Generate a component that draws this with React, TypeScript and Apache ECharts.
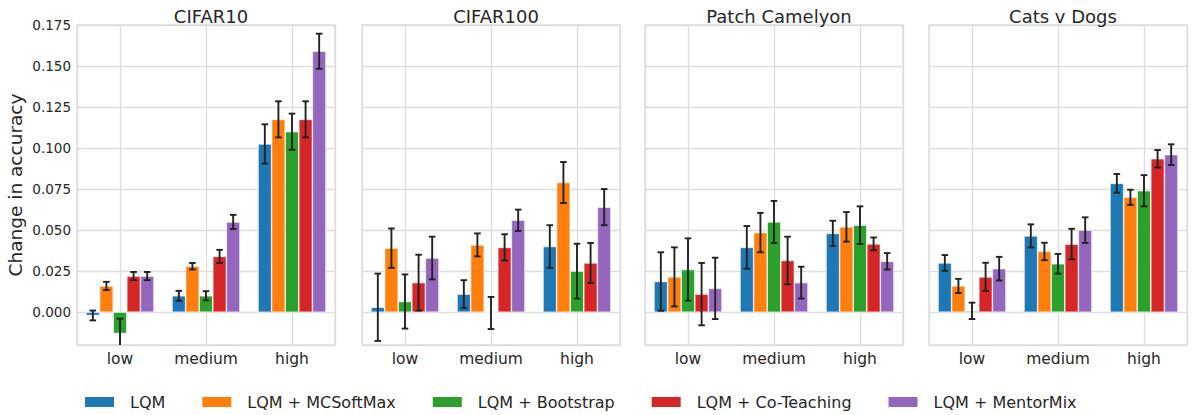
import React, { useEffect, useRef } from "react";
import * as echarts from "echarts";

const datasets = ["CIFAR10", "CIFAR100", "Patch Camelyon", "Cats v Dogs"];
const noiseLevels = ["low", "medium", "high"];
const methods = ["LQM", "LQM + MCSoftMax", "LQM + Bootstrap", "LQM + Co-Teaching", "LQM + MentorMix"];
const colors = ["#1f77b4", "#ff7f0e", "#2ca02c", "#d62728", "#9467bd"];
const yTicks = [0, 0.025, 0.05, 0.075, 0.1, 0.125, 0.15, 0.175];

// rows = methods, columns = noise levels
const cifar10Mean = [
  [-0.002, 0.010, 0.1025],
  [0.016, 0.028, 0.1175],
  [-0.013, 0.010, 0.110],
  [0.022, 0.034, 0.1175],
  [0.022, 0.055, 0.159],
];
const cifar10Err = [
  [0.003, 0.003, 0.012],
  [0.0025, 0.002, 0.011],
  [0.009, 0.0028, 0.011],
  [0.0025, 0.004, 0.011],
  [0.0025, 0.0043, 0.0107],
];
const cifar100Mean = [
  [0.003, 0.011, 0.040],
  [0.039, 0.041, 0.079],
  [0.0065, -0.0005, 0.025],
  [0.018, 0.0395, 0.030],
  [0.033, 0.056, 0.064],
];
const cifar100Err = [
  [0.0205, 0.0085, 0.013],
  [0.012, 0.007, 0.0125],
  [0.0165, 0.0098, 0.0167],
  [0.017, 0.008, 0.0122],
  [0.013, 0.0065, 0.011],
];
const camelyonMean = [
  [0.0187, 0.0395, 0.048],
  [0.0215, 0.0485, 0.052],
  [0.026, 0.055, 0.053],
  [0.011, 0.0315, 0.0416],
  [0.0145, 0.018, 0.031],
];
const camelyonErr = [
  [0.0178, 0.013, 0.0077],
  [0.018, 0.012, 0.009],
  [0.019, 0.0128, 0.0115],
  [0.019, 0.0145, 0.0039],
  [0.0187, 0.0097, 0.005],
];
const catsDogsMean = [
  [0.030, 0.0465, 0.0785],
  [0.016, 0.037, 0.070],
  [0.0008, 0.0295, 0.074],
  [0.0215, 0.0415, 0.0935],
  [0.0265, 0.050, 0.096],
];
const catsDogsErr = [
  [0.0048, 0.007, 0.0057],
  [0.0043, 0.0053, 0.0046],
  [0.005, 0.006, 0.0095],
  [0.0086, 0.0093, 0.0053],
  [0.0072, 0.0078, 0.0063],
];

const means = [cifar10Mean, cifar100Mean, camelyonMean, catsDogsMean];
const errs = [cifar10Err, cifar100Err, camelyonErr, catsDogsErr];

const FONT = "DejaVu Sans";
const TEXT = "#262626";
const LINE = "#dddddd";
const GRID_LEFT = [77, 362, 645, 929];
const GRID_TOP = 25;
const GRID_W = 258;
const GRID_H = 320;
const CAT_GAP = 0.21;

export default function App() {
  const ref = useRef<HTMLDivElement>(null);
  useEffect(() => {
    if (!ref.current) return;
    const chart = echarts.init(ref.current, null, { renderer: "svg" });
    const grids: any[] = [];
    const xAxes: any[] = [];
    const yAxes: any[] = [];
    const series: any[] = [];
    const titles: any[] = [];
    datasets.forEach((name, g) => {
      grids.push({
        left: GRID_LEFT[g],
        top: GRID_TOP,
        width: GRID_W,
        height: GRID_H,
        show: true,
        borderColor: LINE,
        borderWidth: 1.3,
        backgroundColor: "#fff",
      });
      titles.push({
        text: name,
        left: GRID_LEFT[g] + GRID_W / 2,
        top: 2,
        textAlign: "center",
        textStyle: { fontFamily: FONT, fontSize: 18, fontWeight: "normal", color: TEXT },
      });
      xAxes.push({
        type: "category",
        gridIndex: g,
        data: noiseLevels,
        axisLine: { show: false },
        axisTick: { show: false },
        splitLine: { show: false },
        axisLabel: { fontFamily: FONT, fontSize: 15.5, color: TEXT, margin: 6 },
      });
      xAxes.push({
        type: "value",
        gridIndex: g,
        min: -0.5,
        max: 2.5,
        minInterval: 1,
        maxInterval: 1,
        axisLine: { show: false },
        axisTick: { show: false },
        axisLabel: { show: false },
        splitLine: { show: true, lineStyle: { color: LINE, width: 1.3 } },
      });
      yAxes.push({
        type: "value",
        gridIndex: g,
        min: -0.02,
        max: 0.175,
        minInterval: 0.025,
        maxInterval: 0.025,
        name: g === 0 ? "Change in accuracy" : "",
        nameLocation: "middle",
        nameGap: 52,
        nameTextStyle: { fontFamily: FONT, fontSize: 18.5, color: TEXT },
        axisLine: { show: false },
        axisTick: { show: false },
        axisLabel: {
          show: g === 0,
          showMinLabel: false,
          fontFamily: FONT,
          fontSize: 13.5,
          color: TEXT,
          margin: 6,
          formatter: (v: number) => (yTicks.some((t) => Math.abs(t - v) < 1e-9) ? v.toFixed(3) : ""),
        },
        splitLine: { show: true, lineStyle: { color: LINE, width: 1.3 } },
      });
      methods.forEach((m, k) => {
        series.push({
          type: "bar",
          name: m,
          xAxisIndex: 2 * g,
          yAxisIndex: g,
          data: means[g][k],
          barGap: "0%",
          barCategoryGap: CAT_GAP * 100 + "%",
          itemStyle: { color: colors[k], borderColor: "#ffffff", borderWidth: 0.6 },
          z: 2,
        });
      });
      const errData: number[][] = [];
      methods.forEach((m, k) => {
        noiseLevels.forEach((lv, i) => {
          errData.push([i, means[g][k][i] - errs[g][k][i], means[g][k][i] + errs[g][k][i], k]);
        });
      });
      series.push({
        type: "custom",
        name: "errors",
        xAxisIndex: 2 * g,
        yAxisIndex: g,
        z: 5,
        data: errData,
        renderItem: (params: any, api: any) => {
          const i = api.value(0);
          const lo = api.value(1);
          const hi = api.value(2);
          const k = api.value(3);
          const cs = params.coordSys;
          const band = api.size([1, 0])[0];
          const bw = (band * (1 - CAT_GAP)) / methods.length;
          const c = api.coord([i, 0]);
          const cx = c[0] + (k - (methods.length - 1) / 2) * bw;
          let yTop = api.coord([i, hi])[1];
          let yBot = api.coord([i, lo])[1];
          const bottom = cs.y + cs.height;
          const clipped = yBot > bottom;
          if (clipped) yBot = bottom;
          const st = { stroke: "#222222", lineWidth: 1.9 };
          const cap = 3.3;
          const children: any[] = [
            { type: "line", shape: { x1: cx, y1: yTop, x2: cx, y2: yBot }, style: st },
            { type: "line", shape: { x1: cx - cap, y1: yTop, x2: cx + cap, y2: yTop }, style: st },
          ];
          if (!clipped) {
            children.push({ type: "line", shape: { x1: cx - cap, y1: yBot, x2: cx + cap, y2: yBot }, style: st });
          }
          return { type: "group", children };
        },
      });
    });
    chart.setOption({
      animation: false,
      backgroundColor: "#ffffff",
      textStyle: { fontFamily: FONT },
      title: titles,
      grid: grids,
      xAxis: xAxes,
      yAxis: yAxes,
      series,
      legend: {
        data: methods,
        left: 83,
        top: 394,
        padding: 0,
        itemWidth: 31,
        itemHeight: 12,
        itemGap: 35,
        icon: "rect",
        textStyle: { fontFamily: FONT, fontSize: 16, color: TEXT, padding: [0, 0, 0, 10] },
      },
    });
    return () => chart.dispose();
  }, []);
  return <div ref={ref} style={{ position: "fixed", left: 0, top: 0, width: 1192, height: 415 }} />;
}
